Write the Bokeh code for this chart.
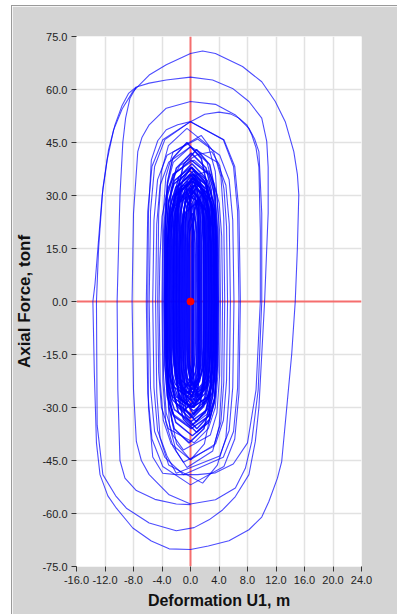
from bokeh.plotting import figure
from bokeh.models import Range1d, FixedTicker, Span, Label
from bokeh.embed import file_html
from bokeh.resources import INLINE

# ---------------- axis ticks ----------------
x_ticks = [-16, -12, -8, -4, 0, 4, 8, 12, 16, 20, 24]
x_tick_labels = ["-16.0", "-12.0", "-8.0", "-4.0", "0.0", "4.0", "8.0", "12.0", "16.0", "20.0", "24.0"]
x_unit_suffix = "E-3"
y_ticks = [-75, -60, -45, -30, -15, 0, 15, 30, 45, 60, 75]
y_tick_labels = ["-75.0", "-60.0", "-45.0", "-30.0", "-15.0", "0.0", "15.0", "30.0", "45.0", "60.0", "75.0"]

# ---------------- hysteresis loops (deformation E-3 m, axial force tonf) ----------------
loop_a_x = [-13.7, -13.5, -13.2, -12.7, -11.6, -10.4, -8.1, -5.5, -3.0, 0.0, 2.5, 5.4, 8.2, 10.0, 11.0, 12.2, 12.8, 13.5, 14.2, 14.7,
            15.0, 15.2, 15.0, 14.5, 13.3, 11.9, 10.0, 7.3, 3.5, 1.7, 0.0, -3.4, -5.8, -8.1, -9.6, -10.8, -11.7, -12.4, -13.0, -13.4, -13.7]
loop_a_y = [0, -20, -40, -49, -55, -58.5, -64.1, -67.8, -70.0, -70.2, -69.2, -67.7, -64.6, -61, -56.6, -50, -45.3, -30.2, -15, 0,
            15, 30.2, 36, 42.4, 50.9, 56.6, 62.2, 66.5, 70.2, 70.9, 70.2, 67.0, 64.1, 59.4, 54.5, 48.5, 40, 30, 15, 5, 0]

loop_b_x = [-13.2, -13.1, -12.3, -10.5, -9.0, -5.8, -2.0, 0.5, 2.6, 4.5, 6.3, 8.2, 9.1, 9.6, 10.4, 10.9, 10.9, 10.7, 10.0, 8.2,
            5.9, 3.1, 0.0, -3.4, -5.8, -7.6, -8.7, -9.6, -10.6, -11.5, -12.3, -12.9, -13.2]
loop_b_y = [0, -35, -49, -55, -58.5, -62.7, -64.9, -64.0, -61.8, -59, -55.2, -49, -39.6, -30, 0, 25, 38, 45.3, 51.9, 56.6,
            60.3, 62.7, 63.5, 62.7, 61.8, 60.7, 58.9, 55.5, 50, 43, 32, 15, 0]

loop_b2_x = [-7.6, -8.5, -9.1, -9.5, -9.9, -10.3, -10.2, -9.9, -9.2, -7.6, -5.0, -2.0, 0.0]
loop_b2_y = [60.7, 57.5, 52, 45, 30, 0, -25, -45, -50, -53.5, -56, -57.3, -57.5]

loop_c_x = [-8.2, -8.0, -7.6, -6.9, -5.8, -3.0, 0.0, 3.5, 6.3, 7.7, 8.6, 9.5, 10.0, 10.0, 9.6, 9.0, 8.2, 6.3, 3.5, 0.0, -3.4, -5.8, -6.8, -7.4, -8.0, -8.2]
loop_c_y = [0, -25, -39.6, -45, -49, -54.7, -57.3, -56.1, -52.8, -47.2, -39.6, -25, 0, 25, 42.4, 46, 49, 52.8, 55.8, 56.6, 54.7, 50, 46.5, 42.4, 25, 0]

loop_d_x = [-6.0, -5.9, -5.5, -4.6, -3.4, -1.8, 0.0, 2.0, 4.0, 5.6, 6.8, 7.9, 8.6, 9.2, 9.6, 9.8, 9.8, 9.2, 8.0, 6.0, 3.5, 1.0, -2.0, -3.9, -5.3, -5.9, -6.0]
loop_d_y = [0, 25, 40, 45.5, 48.6, 50.0, 50.9, 53.0, 53.6, 53.1, 51.9, 50, 47.2, 43.5, 38, 20, 0, -25, -40, -46, -48.5, -49, -49, -48.6, -44, -30, 0]

mid_loops_x = [
    [-6.2, -6.0, -5.41, -3.89, 0.0, 4.69, 6.21, 6.8, 7.0, 6.8, 6.21, 4.69, 0.0, -3.89, -5.41, -6.0, -6.2],
    [-5.8, -5.61, -5.04, -3.6, -1.0, 4.6, 6.04, 6.61, 6.8, 6.61, 6.04, 4.6, 0.0, -3.6, -5.04, -5.61, -5.8],
    [-5.3, -5.13, -4.62, -3.3, -2.0, 4.1, 5.42, 5.93, 6.1, 5.93, 5.42, 4.1, 1.0, -3.3, -4.62, -5.13, -5.3],
    [-4.9, -4.74, -4.27, -3.06, 1.7, 3.76, 4.97, 5.44, 5.6, 5.44, 4.97, 3.76, 0.0, -3.06, -4.27, -4.74, -4.9],
    [-4.4, -4.26, -3.82, -2.72, 0.0, 3.52, 4.62, 5.06, 5.2, 5.06, 4.7, 4.1, 3.0, 1.0, -1.5, -3.2, -4.0, -4.3, -4.4],
    [-3.9, -3.78, -3.41, -2.48, -1.0, 2.78, 3.71, 4.08, 4.2, 4.08, 3.71, 2.78, 0.5, -2.48, -3.41, -3.78, -3.9],
    [-4.0, -3.87, -3.47, -2.46, -1.0, 3.26, 4.27, 4.67, 4.8, 4.67, 4.27, 3.26, 1.5, -2.46, -3.47, -3.87, -4.0],
    [-3.7, -3.59, -3.26, -2.42, 0.0, 2.32, 3.16, 3.49, 3.6, 3.49, 3.16, 2.32, 0.0, -2.42, -3.26, -3.59, -3.7],
    [-3.0, -2.91, -2.64, -1.95, 0.0, 1.95, 2.64, 2.91, 3.0, 2.91, 2.64, 1.95, 0.0, -1.95, -2.64, -2.91, -3.0],
    [-4.6, -4.47, -4.08, -3.1, 0.5, 2.5, 3.48, 3.87, 4.0, 3.87, 3.48, 2.5, -0.5, -3.1, -4.08, -4.47, -4.6],
    [-3.4, -3.28, -2.93, -2.02, -0.5, 3.12, 4.03, 4.38, 4.5, 4.38, 4.03, 3.3, 2.5, 0.5, -1.5, -2.8, -3.3, -3.4],
]
mid_loops_y = [
    [0, -26, -38.9, -46.7, -51.9, -46.7, -38.9, -26, 0, 25.5, 38.2, 45.8, 50.9, 45.8, 38.2, 25.5, 0],
    [0, -24.5, -36.8, -44.1, -49, -44.1, -36.8, -24.5, 0, 25.5, 38.2, 45.8, 50.9, 45.8, 38.2, 25.5, 0],
    [0, -24.3, -36.5, -43.7, -48.6, -43.7, -36.5, -24.3, 0, 23, 34.5, 41.4, 46, 41.4, 34.5, 23, 0],
    [0, -25.7, -38.6, -46.3, -51.4, -46.3, -38.6, -25.7, 0, 21.9, 32.9, 39.4, 43.8, 39.4, 32.9, 21.9, 0],
    [0, -22.4, -33.6, -40.3, -44.8, -40.3, -33.6, -22.4, 0, 21.2, 31.8, 38.5, 42.4, 41.6, 38.5, 32, 24, 12, 0],
    [0, -21, -31.5, -37.8, -42, -37.8, -31.5, -21, 0, 20, 30, 36, 40, 36, 30, 20, 0],
    [0, -22.8, -34.1, -41, -45.5, -41, -34.1, -22.8, 0, 23.5, 35.3, 42.3, 47, 42.3, 35.3, 23.5, 0],
    [0, -17.7, -26.6, -31.9, -35.4, -31.9, -26.6, -17.7, 0, 21.9, 32.9, 39.4, 43.8, 39.4, 32.9, 21.9, 0],
    [0, -22.4, -33.6, -40.3, -44.8, -40.3, -33.6, -22.4, 0, 17.5, 26.2, 31.4, 34.9, 31.4, 26.2, 17.5, 0],
    [0, -20, -30, -36, -40, -36, -30, -20, 0, 24.5, 36.8, 44.1, 49, 44.1, 36.8, 24.5, 0],
    [0, -23.5, -35.3, -42.3, -47, -42.3, -35.3, -23.5, 0, 18.5, 27.8, 33.5, 37, 35.5, 31, 24, 14, 0],
]

core_loops_x = [
    [-3.7, -3.59, -3.24, -2.37, 0.1, 2.57, 3.44, 3.79, 3.9, 3.79, 3.44, 2.57, 0.1, -2.37, -3.24, -3.59, -3.7],
    [-3.5, -3.39, -3.07, -2.26, 0.05, 2.36, 3.17, 3.49, 3.6, 3.49, 3.17, 2.36, 0.05, -2.26, -3.07, -3.39, -3.5],
    [-3.3, -3.19, -2.87, -2.06, 0.25, 2.56, 3.37, 3.69, 3.8, 3.69, 3.37, 2.56, 0.25, -2.06, -2.87, -3.19, -3.3],
    [-3.1, -3.0, -2.72, -1.98, 0.1, 2.18, 2.92, 3.2, 3.3, 3.2, 2.92, 2.18, 0.1, -1.98, -2.72, -3.0, -3.1],
    [-2.9, -2.8, -2.52, -1.78, 0.3, 2.38, 3.12, 3.4, 3.5, 3.4, 3.12, 2.38, 0.3, -1.78, -2.52, -2.8, -2.9],
    [-2.7, -2.61, -2.35, -1.68, 0.2, 2.08, 2.75, 3.01, 3.1, 3.01, 2.75, 2.08, 0.2, -1.68, -2.35, -2.61, -2.7],
    [-2.5, -2.42, -2.18, -1.55, 0.2, 1.95, 2.58, 2.82, 2.9, 2.82, 2.58, 1.95, 0.2, -1.55, -2.18, -2.42, -2.5],
    [-2.3, -2.22, -1.97, -1.34, 0.45, 2.24, 2.87, 3.12, 3.2, 3.12, 2.87, 2.24, 0.45, -1.34, -1.97, -2.22, -2.3],
    [-2.1, -2.03, -1.81, -1.26, 0.3, 1.86, 2.41, 2.63, 2.7, 2.63, 2.41, 1.86, 0.3, -1.26, -1.81, -2.03, -2.1],
    [-1.9, -1.83, -1.64, -1.13, 0.3, 1.73, 2.24, 2.43, 2.5, 2.43, 2.24, 1.73, 0.3, -1.13, -1.64, -1.83, -1.9],
    [-1.7, -1.63, -1.43, -0.91, 0.55, 2.01, 2.53, 2.73, 2.8, 2.73, 2.53, 2.01, 0.55, -0.91, -1.43, -1.63, -1.7],
    [-1.5, -1.44, -1.27, -0.83, 0.4, 1.63, 2.07, 2.24, 2.3, 2.24, 2.07, 1.63, 0.4, -0.83, -1.27, -1.44, -1.5],
    [-1.3, -1.25, -1.1, -0.7, 0.4, 1.5, 1.9, 2.05, 2.1, 2.05, 1.9, 1.5, 0.4, -0.7, -1.1, -1.25, -1.3],
    [-1.1, -1.06, -0.93, -0.59, 0.35, 1.29, 1.63, 1.76, 1.8, 1.76, 1.63, 1.29, 0.35, -0.59, -0.93, -1.06, -1.1],
    [-0.9, -0.86, -0.75, -0.46, 0.35, 1.16, 1.45, 1.56, 1.6, 1.56, 1.45, 1.16, 0.35, -0.46, -0.75, -0.86, -0.9],
    [-0.7, -0.67, -0.58, -0.35, 0.3, 0.95, 1.18, 1.27, 1.3, 1.27, 1.18, 0.95, 0.3, -0.35, -0.58, -0.67, -0.7],
    [-0.5, -0.48, -0.41, -0.24, 0.25, 0.74, 0.91, 0.98, 1.0, 0.98, 0.91, 0.74, 0.25, -0.24, -0.41, -0.48, -0.5],
    [-3.6, -3.51, -3.23, -2.51, -0.5, 1.51, 2.23, 2.51, 2.6, 2.51, 2.23, 1.51, -0.5, -2.51, -3.23, -3.51, -3.6],
    [-2.0, -1.91, -1.66, -1.0, 0.85, 2.7, 3.36, 3.61, 3.7, 3.61, 3.36, 2.7, 0.85, -1.0, -1.66, -1.91, -2.0],
    [-3.4, -3.3, -3.02, -2.28, -0.2, 1.88, 2.62, 2.9, 3.0, 2.9, 2.62, 1.88, -0.2, -2.28, -3.02, -3.3, -3.4],
    [-2.6, -2.53, -2.31, -1.76, -0.2, 1.36, 1.91, 2.13, 2.2, 2.13, 1.91, 1.36, -0.2, -1.76, -2.31, -2.53, -2.6],
    [-1.6, -1.52, -1.3, -0.72, 0.9, 2.52, 3.1, 3.32, 3.4, 3.32, 3.1, 2.52, 0.9, -0.72, -1.3, -1.52, -1.6],
    [-3.0, -2.93, -2.71, -2.14, -0.55, 1.04, 1.61, 1.83, 1.9, 1.83, 1.61, 1.04, -0.55, -2.14, -2.71, -2.93, -3.0],
    [-0.3, -0.28, -0.24, -0.12, 0.2, 0.52, 0.64, 0.68, 0.7, 0.68, 0.64, 0.52, 0.2, -0.12, -0.24, -0.28, -0.3],
    [-3.5, -3.4, -3.09, -2.31, -0.1, 2.11, 2.89, 3.2, 3.3, 3.2, 2.89, 2.11, -0.1, -2.31, -3.09, -3.4, -3.5],
    [-3.2, -3.1, -2.79, -1.99, 0.25, 2.49, 3.29, 3.6, 3.7, 3.6, 3.29, 2.49, 0.25, -1.99, -2.79, -3.1, -3.2],
    [-2.8, -2.72, -2.48, -1.85, -0.1, 1.65, 2.28, 2.52, 2.6, 2.52, 2.28, 1.65, -0.1, -1.85, -2.48, -2.72, -2.8],
    [-2.4, -2.31, -2.05, -1.38, 0.5, 2.38, 3.05, 3.31, 3.4, 3.31, 3.05, 2.38, 0.5, -1.38, -2.05, -2.31, -2.4],
    [-1.8, -1.74, -1.57, -1.13, 0.1, 1.33, 1.77, 1.94, 2.0, 1.94, 1.77, 1.33, 0.1, -1.13, -1.57, -1.74, -1.8],
    [-1.2, -1.15, -0.98, -0.57, 0.6, 1.77, 2.18, 2.35, 2.4, 2.35, 2.18, 1.77, 0.6, -0.57, -0.98, -1.15, -1.2],
    [-1.0, -0.96, -0.83, -0.49, 0.45, 1.39, 1.73, 1.86, 1.9, 1.86, 1.73, 1.39, 0.45, -0.49, -0.83, -0.96, -1.0],
    [-0.8, -0.77, -0.69, -0.47, 0.15, 0.77, 0.99, 1.07, 1.1, 1.07, 0.99, 0.77, 0.15, -0.47, -0.69, -0.77, -0.8],
    [-0.6, -0.55, -0.39, 0.01, 1.15, 2.29, 2.69, 2.85, 2.9, 2.85, 2.69, 2.29, 1.15, 0.01, -0.39, -0.55, -0.6],
    [-2.2, -2.15, -2.01, -1.66, -0.65, 0.36, 0.71, 0.85, 0.9, 0.85, 0.71, 0.36, -0.65, -1.66, -2.01, -2.15, -2.2],
    [-3.3, -3.23, -3.02, -2.48, -0.95, 0.58, 1.12, 1.33, 1.4, 1.33, 1.12, 0.58, -0.95, -2.48, -3.02, -3.23, -3.3],
    [-0.4, -0.37, -0.29, -0.07, 0.55, 1.17, 1.39, 1.47, 1.5, 1.47, 1.39, 1.17, 0.55, -0.07, -0.29, -0.37, -0.4],
    [-1.4, -1.33, -1.14, -0.63, 0.8, 2.23, 2.74, 2.93, 3.0, 2.93, 2.74, 2.23, 0.8, -0.63, -1.14, -1.33, -1.4],
    [-2.0, -1.95, -1.81, -1.44, -0.4, 0.64, 1.01, 1.15, 1.2, 1.15, 1.01, 0.64, -0.4, -1.44, -1.81, -1.95, -2.0],
    [-0.1, -0.09, -0.06, 0.01, 0.2, 0.39, 0.46, 0.49, 0.5, 0.49, 0.46, 0.39, 0.2, 0.01, -0.06, -0.09, -0.1],
    [-1.6, -1.57, -1.49, -1.27, -0.65, -0.03, 0.19, 0.27, 0.3, 0.27, 0.19, -0.03, -0.65, -1.27, -1.49, -1.57, -1.6],
    [0.3, 0.33, 0.41, 0.63, 1.25, 1.87, 2.09, 2.17, 2.2, 2.17, 2.09, 1.87, 1.25, 0.63, 0.41, 0.33, 0.3],
    [-0.2, -0.18, -0.12, 0.05, 0.5, 0.95, 1.12, 1.18, 1.2, 1.18, 1.12, 0.95, 0.5, 0.05, -0.12, -0.18, -0.2],
    [-2.4, -2.36, -2.23, -1.91, -1.0, -0.09, 0.23, 0.36, 0.4, 0.36, 0.23, -0.09, -1.0, -1.91, -2.23, -2.36, -2.4],
    [0.1, 0.15, 0.31, 0.71, 1.85, 2.99, 3.39, 3.55, 3.6, 3.55, 3.39, 2.99, 1.85, 0.71, 0.31, 0.15, 0.1],
]
core_loops_y = [
    [0, -18, -27, -32.4, -36, -32.4, -27, -18, 0, 20, 30, 36, 40, 36, 30, 20, 0],
    [0, -17, -25.5, -30.6, -34, -30.6, -25.5, -17, 0, 19, 28.5, 34.2, 38, 34.2, 28.5, 19, 0],
    [0, -19, -28.5, -34.2, -38, -34.2, -28.5, -19, 0, 18, 27, 32.4, 36, 32.4, 27, 18, 0],
    [0, -16, -24, -28.8, -32, -28.8, -24, -16, 0, 21, 31.5, 37.8, 42, 37.8, 31.5, 21, 0],
    [0, -15, -22.5, -27, -30, -27, -22.5, -15, 0, 17, 25.5, 30.6, 34, 30.6, 25.5, 17, 0],
    [0, -17.5, -26.3, -31.5, -35, -31.5, -26.3, -17.5, 0, 19.5, 29.3, 35.1, 39, 35.1, 29.3, 19.5, 0],
    [0, -14, -21, -25.2, -28, -25.2, -21, -14, 0, 19, 28.5, 34.2, 38, 34.2, 28.5, 19, 0],
    [0, -15.5, -23.3, -27.9, -31, -27.9, -23.3, -15.5, 0, 18.5, 27.8, 33.3, 37, 33.3, 27.8, 18.5, 0],
    [0, -16.5, -24.8, -29.7, -33, -29.7, -24.8, -16.5, 0, 18, 27, 32.4, 36, 32.4, 27, 18, 0],
    [0, -13.5, -20.3, -24.3, -27, -24.3, -20.3, -13.5, 0, 17.5, 26.3, 31.5, 35, 31.5, 26.3, 17.5, 0],
    [0, -14.5, -21.8, -26.1, -29, -26.1, -21.8, -14.5, 0, 16.5, 24.8, 29.7, 33, 29.7, 24.8, 16.5, 0],
    [0, -13, -19.5, -23.4, -26, -23.4, -19.5, -13, 0, 17.5, 26.3, 31.5, 35, 31.5, 26.3, 17.5, 0],
    [0, -15, -22.5, -27, -30, -27, -22.5, -15, 0, 15.5, 23.3, 27.9, 31, 27.9, 23.3, 15.5, 0],
    [0, -12.5, -18.8, -22.5, -25, -22.5, -18.8, -12.5, 0, 17, 25.5, 30.6, 34, 30.6, 25.5, 17, 0],
    [0, -12, -18, -21.6, -24, -21.6, -18, -12, 0, 15, 22.5, 27, 30, 27, 22.5, 15, 0],
    [0, -13, -19.5, -23.4, -26, -23.4, -19.5, -13, 0, 16.5, 24.8, 29.7, 33, 29.7, 24.8, 16.5, 0],
    [0, -11, -16.5, -19.8, -22, -19.8, -16.5, -11, 0, 12.5, 18.8, 22.5, 25, 22.5, 18.8, 12.5, 0],
    [0, -15, -22.5, -27, -30, -27, -22.5, -15, 0, 22.5, 33.8, 40.5, 45, 40.5, 33.8, 22.5, 0],
    [0, -18.5, -27.8, -33.3, -37, -33.3, -27.8, -18.5, 0, 21.5, 32.3, 38.7, 43, 38.7, 32.3, 21.5, 0],
    [0, -20, -30, -36, -40, -36, -30, -20, 0, 15, 22.5, 27, 30, 27, 22.5, 15, 0],
    [0, -12, -18, -21.6, -24, -21.6, -18, -12, 0, 16, 24, 28.8, 32, 28.8, 24, 16, 0],
    [0, -18, -27, -32.4, -36, -32.4, -27, -18, 0, 14, 21, 25.2, 28, 25.2, 21, 14, 0],
    [0, -13, -19.5, -23.4, -26, -23.4, -19.5, -13, 0, 16.5, 24.8, 29.7, 33, 29.7, 24.8, 16.5, 0],
    [0, -10, -15, -18, -20, -18, -15, -10, 0, 11, 16.5, 19.8, 22, 19.8, 16.5, 11, 0],
    [0, -13.5, -20.3, -24.3, -27, -24.3, -20.3, -13.5, 0, 18.5, 27.8, 33.3, 37, 33.3, 27.8, 18.5, 0],
    [0, -15, -22.5, -27, -30, -27, -22.5, -15, 0, 17, 25.5, 30.6, 34, 30.6, 25.5, 17, 0],
    [0, -16.5, -24.8, -29.7, -33, -29.7, -24.8, -16.5, 0, 18, 27, 32.4, 36, 32.4, 27, 18, 0],
    [0, -13.5, -20.3, -24.3, -27, -24.3, -20.3, -13.5, 0, 17.5, 26.3, 31.5, 35, 31.5, 26.3, 17.5, 0],
    [0, -15, -22.5, -27, -30, -27, -22.5, -15, 0, 19, 28.5, 34.2, 38, 34.2, 28.5, 19, 0],
    [0, -14, -21, -25.2, -28, -25.2, -21, -14, 0, 16.5, 24.8, 29.7, 33, 29.7, 24.8, 16.5, 0],
    [0, -16, -24, -28.8, -32, -28.8, -24, -16, 0, 18, 27, 32.4, 36, 32.4, 27, 18, 0],
    [0, -13.5, -20.3, -24.3, -27, -24.3, -20.3, -13.5, 0, 15, 22.5, 27, 30, 27, 22.5, 15, 0],
    [0, -12.5, -18.8, -22.5, -25, -22.5, -18.8, -12.5, 0, 16.5, 24.8, 29.7, 33, 29.7, 24.8, 16.5, 0],
    [0, -14.5, -21.8, -26.1, -29, -26.1, -21.8, -14.5, 0, 15.5, 23.3, 27.9, 31, 27.9, 23.3, 15.5, 0],
    [0, -15.5, -23.3, -27.9, -31, -27.9, -23.3, -15.5, 0, 16.5, 24.8, 29.7, 33, 29.7, 24.8, 16.5, 0],
    [0, -12, -18, -21.6, -24, -21.6, -18, -12, 0, 16.5, 24.8, 29.7, 33, 29.7, 24.8, 16.5, 0],
    [0, -17, -25.5, -30.6, -34, -30.6, -25.5, -17, 0, 16, 24, 28.8, 32, 28.8, 24, 16, 0],
    [0, -13, -19.5, -23.4, -26, -23.4, -19.5, -13, 0, 17, 25.5, 30.6, 34, 30.6, 25.5, 17, 0],
    [0, -12, -18, -21.6, -24, -21.6, -18, -12, 0, 14, 21, 25.2, 28, 25.2, 21, 14, 0],
    [0, -14, -21, -25.2, -28, -25.2, -21, -14, 0, 16, 24, 28.8, 32, 28.8, 24, 16, 0],
    [0, -13.5, -20.3, -24.3, -27, -24.3, -20.3, -13.5, 0, 14.5, 21.8, 26.1, 29, 26.1, 21.8, 14.5, 0],
    [0, -15, -22.5, -27, -30, -27, -22.5, -15, 0, 17.5, 26.3, 31.5, 35, 31.5, 26.3, 17.5, 0],
    [0, -12.5, -18.8, -22.5, -25, -22.5, -18.8, -12.5, 0, 15, 22.5, 27, 30, 27, 22.5, 15, 0],
    [0, -14.5, -21.8, -26.1, -29, -26.1, -21.8, -14.5, 0, 15.5, 23.3, 27.9, 31, 27.9, 23.3, 15.5, 0],
]

origin_x = [0.0]
origin_y = [0.0]

# ---------------- figure ----------------
FONT = "Liberation Sans"
p = figure(width=386, height=609,
           x_range=Range1d(-16, 24), y_range=Range1d(-75, 75),
           output_backend="svg", toolbar_location=None,
           min_border_left=62, min_border_right=37, min_border_top=30, min_border_bottom=49,
           border_fill_color="#d4d4d4", background_fill_color="white",
           outline_line_color=None)
p.margin = (5, 0, 0, 11)
p.styles = {"border-left": "1px solid #9a9a9a", "border-top": "1px solid #9a9a9a"}

p.xaxis.ticker = FixedTicker(ticks=x_ticks)
p.yaxis.ticker = FixedTicker(ticks=y_ticks)
p.xaxis.major_label_overrides = {t: l for t, l in zip(x_ticks, x_tick_labels)}
p.yaxis.major_label_overrides = {t: l for t, l in zip(y_ticks, y_tick_labels)}
p.xgrid.ticker = FixedTicker(ticks=x_ticks)
p.ygrid.ticker = FixedTicker(ticks=y_ticks)
p.grid.grid_line_color = "#e2e2e2"
p.grid.grid_line_width = 1.5

for ax in (p.xaxis, p.yaxis):
    ax.axis_line_color = None
    ax.major_tick_line_color = "#333333"
    ax.major_tick_out = 5
    ax.major_tick_in = 0
    ax.minor_tick_line_color = None
    ax.major_label_text_font = FONT
    ax.major_label_text_font_size = "11px"
    ax.major_label_text_color = "#222222"
    ax.major_label_standoff = 4
    ax.axis_label_text_font = FONT
    ax.axis_label_text_font_style = "bold"
    ax.axis_label_text_color = "#111111"
p.xaxis.axis_label = "Deformation U1, m"
p.yaxis.axis_label = "Axial Force, tonf"
p.xaxis.axis_label_text_font_size = "16px"
p.yaxis.axis_label_text_font_size = "17px"
p.xaxis.axis_label_standoff = 5
p.yaxis.axis_label_standoff = 5

p.add_layout(Label(x=x_ticks[-1], y=y_ticks[0], x_offset=13, y_offset=-21, text=x_unit_suffix,
                   text_font=FONT, text_font_size="11px", text_color="#222222",
                   text_align="left", text_baseline="middle"))

# red reference axes (under the curves)
p.add_layout(Span(location=0, dimension="height", line_color="#ff3030", line_alpha=0.65, line_width=2, level="underlay"))
p.add_layout(Span(location=0, dimension="width", line_color="#ff3030", line_alpha=0.65, line_width=2, level="underlay"))

all_x = [loop_a_x, loop_b_x, loop_b2_x, loop_c_x, loop_d_x] + mid_loops_x
all_y = [loop_a_y, loop_b_y, loop_b2_y, loop_c_y, loop_d_y] + mid_loops_y
p.multi_line(xs=core_loops_x, ys=core_loops_y, line_color="#0000ff", line_alpha=0.85, line_width=1.5)
p.multi_line(xs=all_x, ys=all_y, line_color="#0000ff", line_alpha=0.7, line_width=1.1)

p.scatter(origin_x, origin_y, size=7, marker="circle", color="red")

open("out.html", "w").write(file_html(p, INLINE))
